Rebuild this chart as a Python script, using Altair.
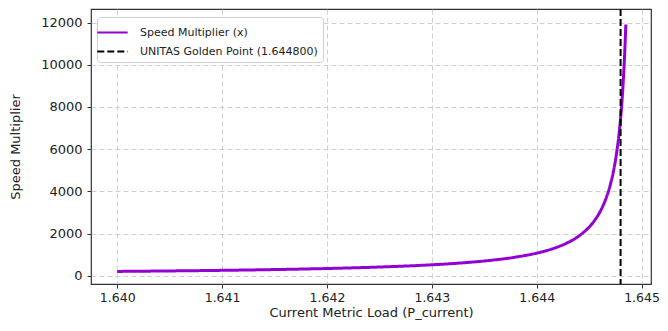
import altair as alt
import pandas as pd

# Data
load_values = [1.6400, 1.6405, 1.6410, 1.6415, 1.6420, 1.6425, 1.6430, 1.6433,
               1.6435, 1.6438, 1.6440, 1.6442, 1.6443, 1.6444, 1.6445, 1.64455,
               1.6446, 1.64465, 1.6447, 1.64473, 1.64476, 1.6448, 1.64482,
               1.64484, 1.64485]
speed_values = [203, 226, 254, 291, 341, 411, 517, 612,
                697, 882, 1071, 1362, 1577, 1873, 2304, 2604,
                2994, 3521, 4274, 4902, 5747, 7463, 8772,
                10638, 11905]
golden_point = [1.6448]
series_names = ["Speed Multiplier (x)", "UNITAS Golden Point (1.644800)"]
series_colors = ["#9400D3", "#000000"]
series_dashes = [[1, 0], [7, 3]]
x_ticks = [1.640, 1.641, 1.642, 1.643, 1.644, 1.645]
y_ticks = [0, 2000, 4000, 6000, 8000, 10000, 12000]

line_df = pd.DataFrame({"load": load_values, "speed": speed_values,
                        "series": series_names[0]})
rule_df = pd.DataFrame({"load": golden_point, "series": [series_names[1]]})

FONT = "DejaVu Sans"

legend = alt.Legend(
    title=None, orient="none", legendX=6, legendY=8, direction="vertical",
    labelFont=FONT, labelFontSize=11, labelColor="#222222", labelLimit=0,
    symbolType="M-1.6,0L1.6,0", symbolSize=361, symbolStrokeWidth=2,
    strokeColor="#d0d0d0", fillColor="white", padding=5, cornerRadius=3,
    rowPadding=3, labelOffset=17,
)

color = alt.Color("series:N",
                  scale=alt.Scale(domain=series_names, range=series_colors),
                  legend=legend)
dash = alt.StrokeDash("series:N",
                      scale=alt.Scale(domain=series_names, range=series_dashes),
                      legend=legend)

x_enc = alt.X("load:Q",
              scale=alt.Scale(domain=[1.63975, 1.64509], nice=False, zero=False),
              axis=alt.Axis(values=x_ticks, format=".3f",
                            title="Current Metric Load (P_current)",
                            labelFontSize=12.5, labelPadding=3,
                            titlePadding=3))

line = alt.Chart(line_df).mark_line(strokeWidth=3, interpolate="monotone").encode(
    x=x_enc,
    y=alt.Y("speed:Q",
            scale=alt.Scale(domain=[-393, 12640], nice=False, zero=False),
            axis=alt.Axis(values=y_ticks, format="d", title="Speed Multiplier",
                          labelPadding=5, titlePadding=18)),
    color=color,
    strokeDash=dash,
)

rule = alt.Chart(rule_df).mark_rule(strokeWidth=2).encode(
    x=x_enc,
    color=color,
    strokeDash=dash,
)

chart = alt.layer(line, rule).properties(
    width=560, height=275,
    autosize=alt.AutoSizeParams(type="none"),
    padding={"left": 83, "top": 1, "right": 9, "bottom": 39},
).configure_view(
    stroke="#333333", strokeWidth=1.2
).configure_axis(
    domain=False, tickColor="#333333", tickSize=4, tickWidth=1,
    labelFont=FONT, labelFontSize=13, labelColor="#222222",
    titleFont=FONT, titleFontSize=13, titleFontWeight="normal", titleColor="#222222",
    grid=True, gridDash=[5, 3], gridColor="#c4c4c4", gridWidth=0.8,
)

chart.save("out.html", embed_options={"renderer": "svg", "actions": False})
